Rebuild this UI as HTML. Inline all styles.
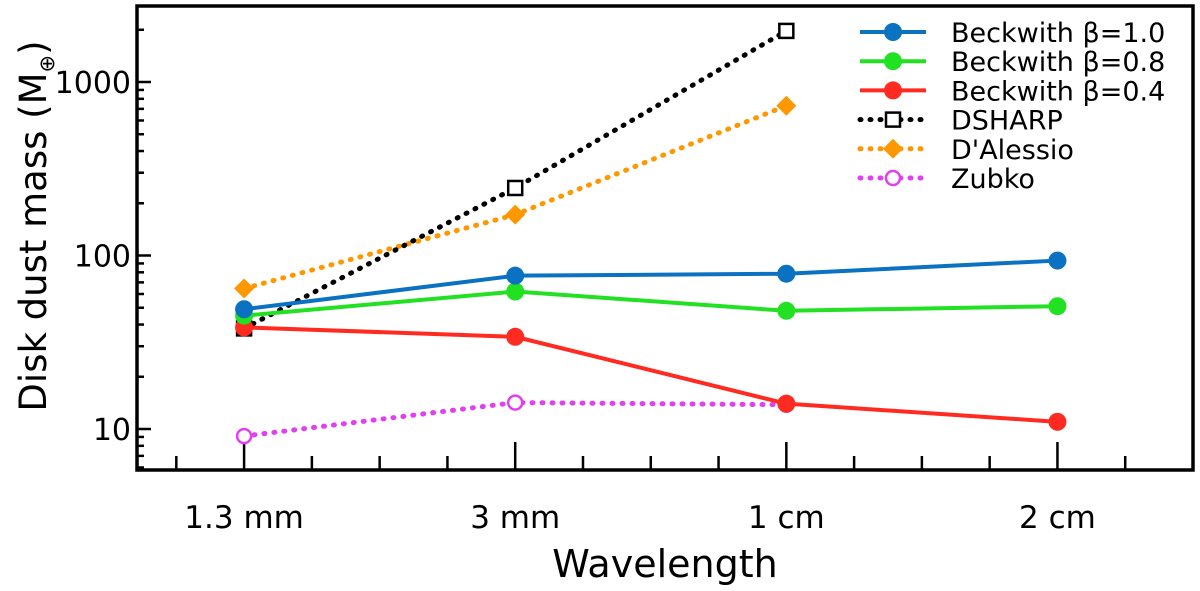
<!DOCTYPE html>
<html><head><meta charset="utf-8"><style>
body{margin:0;background:#fff;}
svg{display:block;font-family:"DejaVu Sans","Liberation Sans",sans-serif;}
</style></head><body>
<svg id="chart" width="1200" height="591" viewBox="0 0 1200 591" xmlns="http://www.w3.org/2000/svg">
<g id="plot"></g>
<text x="665" y="577" font-size="38" text-anchor="middle">Wavelength</text>
<text transform="translate(46,226) rotate(-90)" font-size="37" text-anchor="middle">Disk dust mass (M<tspan font-size="21" dy="8">⊕</tspan><tspan dy="-8">)</tspan></text>
</svg>
<script>
const categories = ["1.3 mm","3 mm","1 cm","2 cm"];
const beck10 = [49, 76.5, 78.5, 93.5];
const beck08 = [45, 62, 48, 51];
const beck04 = [38.5, 34, 14, 11];
const dsharp = [38, 245, 1970];
const dalessio = [64.5, 172, 730];
const zubko = [9.1, 14.2, 13.8];
const yTicks = [10, 100, 1000];
const seriesNames = ["Beckwith β=1.0","Beckwith β=0.8","Beckwith β=0.4","DSHARP","D'Alessio","Zubko"];

const L=137,R=1193,T=6,B=470;
const xMin=-0.395,xMax=3.5;
const x=i=>L+(i-xMin)/(xMax-xMin)*(R-L);
const y=v=>82-(Math.log10(v)-3)*173.5;
const NS="http://www.w3.org/2000/svg";
const plot=document.getElementById('plot');
function mk(tag,attrs,parent){const e=document.createElementNS(NS,tag);for(const k in attrs)e.setAttribute(k,attrs[k]);(parent||plot).appendChild(e);return e;}

for(let d=0;d<=3;d++){for(let m=1;m<10;m++){const v=Math.pow(10,d)*m;const yy=y(v);if(yy<T||yy>B)continue;
 const t=mk('line',{x1:L,x2:L+(m===1?14:7),y1:yy,y2:yy,stroke:'#000','stroke-width':2.5});
 
 }}
yTicks.forEach(v=>{const t=mk('text',{x:L-6,y:y(v)+11,'font-size':30,'text-anchor':'end'});t.textContent=v;
 
 });
for(let q=-0.25;q<=3.3;q+=0.25){const major=Math.abs(q-Math.round(q))<1e-6;const xx=x(q);
 const t=mk('line',{x1:xx,x2:xx,y1:B,y2:B-(major?28:14),stroke:'#000','stroke-width':2.5});
 
 }
categories.forEach((c,i)=>{const t=mk('text',{x:x(i),y:528,'font-size':31,'text-anchor':'middle'});t.textContent=c;
 
 });

function marker(kind,cx,cy,color,g){
 if(kind==='circle')return mk('circle',{cx,cy,r:9,fill:color},g);
 if(kind==='ocircle')return mk('circle',{cx,cy,r:7,fill:'#fff',stroke:color,'stroke-width':2.5},g);
 if(kind==='square')return mk('rect',{x:cx-7,y:cy-7,width:14,height:14,fill:'#fff',stroke:color,'stroke-width':2.5},g);
 return mk('path',{d:`M${cx} ${cy-10}L${cx+10} ${cy}L${cx} ${cy+10}L${cx-10} ${cy}Z`,fill:color},g);
}
const DOT='1 9';
const series=[
 {name:'beckwith-1.0',data:beck10,color:'#0a72c0',dash:'',m:'circle'},
 {name:'beckwith-0.8',data:beck08,color:'#22e022',dash:'',m:'circle'},
 {name:'beckwith-0.4',data:beck04,color:'#ff2a20',dash:'',m:'circle'},
 {name:'dsharp',data:dsharp,color:'#000',dash:DOT,m:'square'},
 {name:'dalessio',data:dalessio,color:'#ff9800',dash:DOT,m:'diamond'},
 {name:'zubko',data:zubko,color:'#e040f0',dash:DOT,m:'ocircle'}];
const drawOrder=[5,4,3,2,1,0];
drawOrder.forEach(si=>{const s=series[si];const g=mk('g',{});
 
 
 const pts=s.data.map((v,i)=>x(i)+','+y(v)).join(' ');
 const ln=mk('polyline',{points:pts,fill:'none',stroke:s.color,'stroke-width':s.dash?5:4,'stroke-dasharray':s.dash,'stroke-linecap':s.dash?'round':'butt'},g);
 
 
 s.data.forEach((v,i)=>{const p=marker(s.m,x(i),y(v),s.color,g);
  
  });
});
const lg=mk('g',{});


series.forEach((s,i)=>{const yy=32+i*29.2;const e=mk('g',{},lg);
 
 
 mk('line',{x1:860,x2:926,y1:yy,y2:yy,stroke:s.color,'stroke-width':s.dash?5:4,'stroke-dasharray':s.dash,'stroke-linecap':s.dash?'round':'butt'},e);
 marker(s.m,893,yy,s.color,e);
 const t=mk('text',{x:951,y:yy+10,'font-size':27},e);t.textContent=seriesNames[i];});
const f=mk('rect',{x:L,y:T,width:R-L,height:B-T,fill:'none',stroke:'#000','stroke-width':3.5});


</script>
</body></html>
